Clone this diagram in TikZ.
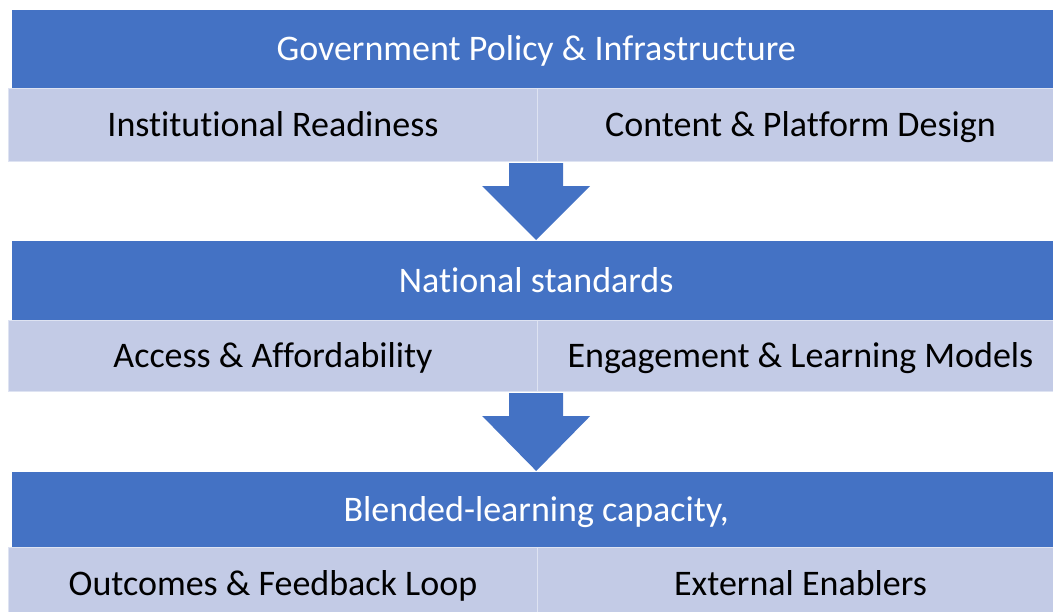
\documentclass[tikz,border=0pt]{standalone}
\usepackage{fontspec}
\setmainfont{Carlito}[Ligatures={NoCommon,NoContextual}]
\usetikzlibrary{calc}
\definecolor{barblue}{RGB}{68,114,196}
\definecolor{cellblue}{RGB}{195,203,230}
\definecolor{celledge}{RGB}{222,227,242}
% block arrow pointing down from the row above to the next header bar
\newcommand\flowarrow[2]{%
  \fill[barblue] let \p1=(#1.south), \p2=(#2.north) in
    (\x2-27pt,\y1-1pt) -- (\x2+27pt,\y1-1pt) -- (\x2+27pt,\y1-24pt) --
    (\x2+54pt,\y1-24pt) -- (\x2,\y2+1pt) -- (\x2-54pt,\y1-24pt) --
    (\x2-27pt,\y1-24pt) -- cycle;}
\begin{document}
\begin{tikzpicture}[x=1pt,y=-1pt,
  txt/.style={font=\fontsize{36}{42}\selectfont, text height=23pt, text depth=0pt},
  header/.style={txt, fill=barblue, draw=none, text=white, inner sep=0pt,
    minimum width=1048pt, anchor=north west},
  cell/.style={txt, fill=cellblue, draw=celledge, line width=1pt, text=black,
    inner sep=0pt, anchor=north west},
  leftcell/.style={cell, minimum width=529pt},
  rightcell/.style={cell, minimum width=526pt}]
\useasboundingbox (0,0) rectangle (1053,611);

% row 1
\node[header, minimum height=78pt] (h1) at (12,10) {Government Policy \& Infrastructure};
\node[leftcell, minimum height=73pt] (c1l) at (8,88) {Institutional Readiness};
\node[rightcell, minimum height=73pt] (c1r) at (537,88) {Content \& Platform Design};

% row 2
\node[header, minimum height=79pt] (h2) at (12,241) {National standards};
\node[leftcell, minimum height=71pt] (c2l) at (8,320) {Access \& Affordability};
\node[rightcell, minimum height=71pt] (c2r) at (537,320) {Engagement \& Learning Models};

% row 3
\node[header, minimum height=75pt] (h3) at (12,472) {Blended-learning capacity,};
\node[leftcell, minimum height=72pt] (c3l) at (8,547) {Outcomes \& Feedback Loop};
\node[rightcell, minimum height=72pt] (c3r) at (537,547) {External Enablers};

% arrows between the rows
\flowarrow{c1l}{h2}
\flowarrow{c2l}{h3}
\end{tikzpicture}
\end{document}
